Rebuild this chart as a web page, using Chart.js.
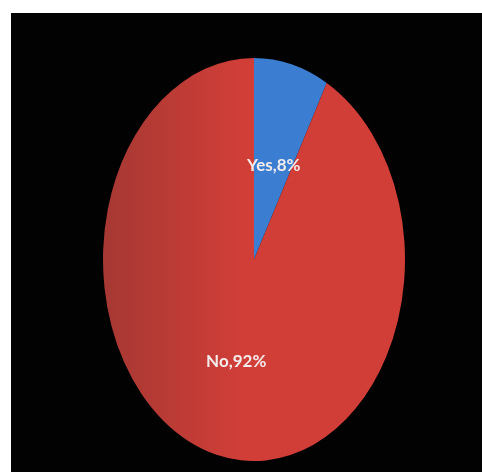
<!DOCTYPE html>
<html>
<head>
<meta charset="utf-8">
<script src="https://cdn.jsdelivr.net/npm/chart.js@4"></script>
<style>
  body { margin: 0; background: #fff; width: 482px; height: 472px; overflow: hidden; }
  #frame { position: absolute; left: 11px; top: 13px; width: 471px; height: 459px; background: #020202; }
  #chart { position: absolute; left: 103px; top: 58px; }
</style>
</head>
<body>
<div id="frame"></div>
<canvas id="chart" width="302" height="403"></canvas>
<script>
const labels = ['Yes', 'No']
const values = [8, 92]
const colors = ['#3a7dd1', '#d13e38']

// stretch the pie vertically so it comes out as an ellipse
const stretch = 403 / 302

const squash = {
    id: 'squash',
    beforeDatasetsDraw(chart) {
        const ctx = chart.ctx
        const cy = (chart.chartArea.top + chart.chartArea.bottom) / 2
        ctx.save()
        ctx.translate(0, cy)
        ctx.scale(1, stretch)
        ctx.translate(0, -cy)
    },
    afterDatasetsDraw(chart) {
        const ctx = chart.ctx
        ctx.restore()
        const cy = (chart.chartArea.top + chart.chartArea.bottom) / 2
        const meta = chart.getDatasetMeta(0)
        ctx.save()
        ctx.font = 'bold 17px Lato'
        ctx.fillStyle = '#f2ecec'
        ctx.textAlign = 'center'
        ctx.textBaseline = 'middle'
        meta.data.forEach((arc, i) => {
            const p = arc.tooltipPosition()
            const y = cy + (p.y - cy) * stretch
            ctx.fillText(`${labels[i]},${values[i]}%`, p.x + 1, y + 4)
        })
        ctx.restore()
    }
}

function sliceColor(c) {
    if (c.dataIndex == 0) return colors[0]
    const area = c.chart.chartArea
    if (!area) return colors[1]
    const g = c.chart.ctx.createLinearGradient(area.left, 0, area.left + 140, 0)
    g.addColorStop(0, '#a63833')
    g.addColorStop(1, colors[1])
    return g
}

new Chart(document.querySelector('#chart'), {
    type: 'pie',
    data: {
        labels: labels,
        datasets: [{
            data: values,
            backgroundColor: sliceColor,
            borderWidth: 0
        }]
    },
    options: {
        responsive: false,
        animation: false,
        layout: { padding: { top: 50.5, bottom: 50.5 } },
        plugins: {
            legend: { display: false },
            tooltip: { enabled: false }
        }
    },
    plugins: [squash]
})
</script>
</body>
</html>
